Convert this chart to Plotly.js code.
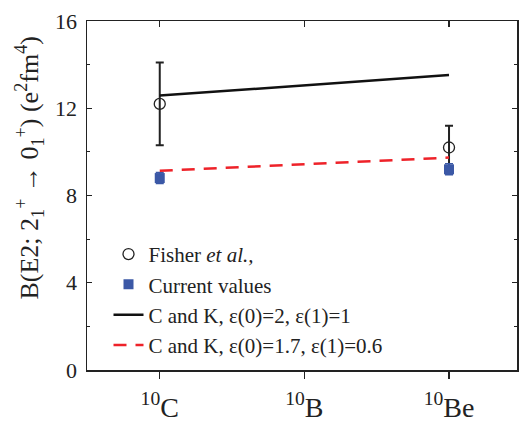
<!DOCTYPE html>
<html>
<head>
<meta charset="utf-8">
<script src="https://cdn.plot.ly/plotly-3.0.1.min.js"></script>
<style>
  html, body { margin: 0; padding: 0; background: #fff; }
  #chart { width: 520px; height: 422px; }
</style>
</head>
<body>
<div id="chart"></div>
<script>
// Nuclei along the A = 10 isobar
const nuclei = ['10C', '10B', '10Be'];
const nucleusLabels = ['<sup>10</sup>C', '<sup>10</sup>B', '<sup>10</sup>Be'];

// Fisher et al. measurements (e^2 fm^4)
const fisherNuclei = ['10C', '10Be'];
const fisherValues = [12.2, 10.2];
const fisherErrors = [1.9, 1.0];

// Current values
const currentNuclei = ['10C', '10Be'];
const currentValues = [8.8, 9.2];
const currentErrors = [0.25, 0.25];

// Cohen-Kurath calculations with two sets of effective charges
const ckNuclei = ['10C', '10Be'];
const ckSetA = [12.58, 13.52];   // eps(0)=2, eps(1)=1
const ckSetB = [9.13, 9.74];     // eps(0)=1.7, eps(1)=0.6

// y-axis ticks
const yMajorTicks = [0, 4, 8, 12, 16];

const yTitle = 'B(E2; 2<sub>1</sub><sup>+</sup> → 0<sub>1</sub><sup>+</sup>) (e<sup>2</sup>fm<sup>4</sup>)';

const serif = 'Liberation Serif, Times New Roman, serif';
const blue = '#3b58a6';
const red = '#ee2229';

const traces = [
  {
    x: fisherNuclei, y: fisherValues, type: 'scatter', mode: 'markers',
    name: 'Fisher <i>et al.,</i>',
    marker: { symbol: 'circle-open', size: 11, color: '#222', line: { width: 1.3, color: '#222' } },
    error_y: { type: 'data', array: fisherErrors, color: '#222', thickness: 2, width: 4 },
    cliponaxis: false
  },
  {
    x: currentNuclei, y: currentValues, type: 'scatter', mode: 'markers',
    name: 'Current values',
    marker: { symbol: 'square', size: 10, color: blue },
    error_y: { type: 'data', array: currentErrors, color: blue, thickness: 1.5, width: 4 }
  },
  {
    x: ckNuclei, y: ckSetA, type: 'scatter', mode: 'lines',
    name: 'C and K, ε(0)=2, ε(1)=1',
    line: { color: '#111', width: 2.5 }
  },
  {
    x: ckNuclei, y: ckSetB, type: 'scatter', mode: 'lines',
    name: 'C and K, ε(0)=1.7, ε(1)=0.6',
    line: { color: red, width: 2.5, dash: '13px,9px' }
  },
  {
    // carries the top axis (inward ticks) only
    x: nuclei, y: [null, null, null], xaxis: 'x2', type: 'scatter', mode: 'none',
    showlegend: false, hoverinfo: 'skip'
  }
];

const layout = {
  width: 520, height: 422,
  margin: { l: 87, r: 3, t: 21, b: 52 },
  paper_bgcolor: '#fff', plot_bgcolor: '#fff',
  font: { family: serif, color: '#222' },
  showlegend: true,
  legend: {
    x: 0.05, xanchor: 'left', y: 0.39, yanchor: 'top',
    bgcolor: 'rgba(0,0,0,0)', borderwidth: 0,
    font: { family: serif, size: 21, color: '#222' },
    traceorder: 'normal'
  },
  xaxis: {
    type: 'category', categoryorder: 'array', categoryarray: nuclei,
    range: [-0.503, 2.47],
    tickmode: 'array', tickvals: nuclei, ticktext: nucleusLabels,
    ticks: 'outside', ticklen: 7, tickwidth: 1.3, tickcolor: '#222',
    showline: true, linecolor: '#222', linewidth: 1.5, mirror: true,
    showgrid: false, zeroline: false,
    tickfont: { family: serif, size: 28, color: '#222' },
    ticklabelstandoff: 5
  },
  xaxis2: {
    type: 'category', categoryorder: 'array', categoryarray: nuclei,
    overlaying: 'x', side: 'top', matches: 'x',
    range: [-0.503, 2.47],
    tickmode: 'array', tickvals: nuclei,
    ticks: 'inside', ticklen: 6, tickwidth: 1.3, tickcolor: '#222',
    showticklabels: false, showline: false, showgrid: false, zeroline: false
  },
  yaxis: {
    range: [0, 16],
    tickmode: 'array', tickvals: yMajorTicks,
    ticks: 'inside', ticklen: 5, tickwidth: 1.3, tickcolor: '#222',
    minor: { dtick: 2, ticks: 'inside', ticklen: 3, tickwidth: 1.2, tickcolor: '#222', showgrid: false },
    showline: true, linecolor: '#222', linewidth: 1.5, mirror: 'ticks',
    showgrid: false, zeroline: false,
    tickfont: { family: serif, size: 22, color: '#222' },
    ticklabelstandoff: 4
  },
  annotations: [{
    // y-axis title, set a little above the middle of the axis
    text: yTitle, textangle: -90, showarrow: false,
    xref: 'paper', yref: 'paper', x: -0.135, y: 0.58,
    xanchor: 'center', yanchor: 'middle',
    font: { family: serif, size: 26, color: '#222' }
  }]
};

Plotly.newPlot('chart', traces, layout, { staticPlot: true, displayModeBar: false });
</script>
</body>
</html>
